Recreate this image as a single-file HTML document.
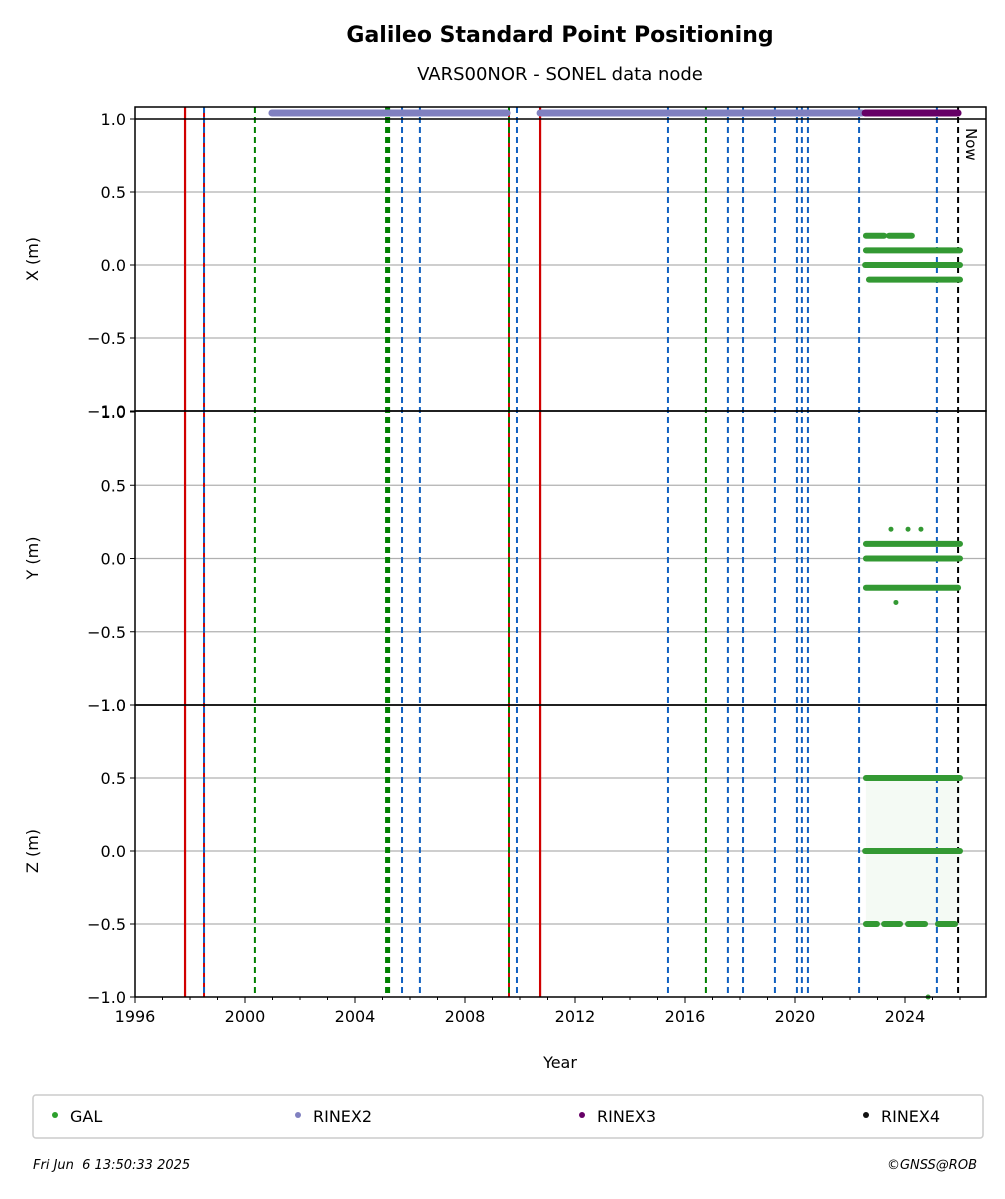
<!DOCTYPE html>
<html><head><meta charset="utf-8"><style>
body{margin:0;background:#fff;}
svg text{font-family:"DejaVu Sans","Liberation Sans",sans-serif;}
</style></head><body>
<svg id="chart" width="1005" height="1194" xmlns="http://www.w3.org/2000/svg">
<text x="560" y="42" text-anchor="middle" font-size="22" font-weight="bold">Galileo Standard Point Positioning</text>
<text x="560" y="80" text-anchor="middle" font-size="18">VARS00NOR - SONEL data node</text>
<g id="plot"></g>
<text x="560" y="1068" text-anchor="middle" font-size="16">Year</text>
<rect x="33" y="1095" width="950" height="43" fill="#fff" stroke="#ccc" stroke-width="1.5" rx="3"/>
<g><circle cx="55" cy="1115" r="3" fill="#2ca02c"/><text x="70" y="1122" font-size="16">GAL</text></g>
<g><circle cx="298" cy="1115" r="3" fill="#8080c0"/><text x="313" y="1122" font-size="16">RINEX2</text></g>
<g><circle cx="582" cy="1115" r="3" fill="#660066"/><text x="597" y="1122" font-size="16">RINEX3</text></g>
<g><circle cx="866" cy="1115" r="3" fill="#111"/><text x="881" y="1122" font-size="16">RINEX4</text></g>
<text x="33" y="1169" font-size="13" font-style="italic" xml:space="preserve">Fri Jun  6 13:50:33 2025</text>
<text x="977" y="1169" text-anchor="end" font-size="13" font-style="italic">©GNSS@ROB</text>
</svg>
<script>
const xTicks=[1996,2000,2004,2008,2012,2016,2020,2024];
const yTicks=[1.0,0.5,0.0,-0.5,-1.0];
const redSolid=[1997.82,2010.73];
const redDashed=[1998.51,2009.6];
const greenDashed=[2000.36,2005.13,2005.19,2005.24,2009.6,2016.76];
const blueDashed=[1998.51,2005.71,2006.36,2009.89,2015.38,2017.56,2018.11,2019.27,2020.07,2020.25,2020.47,2022.33,2025.16];
const nowYear=2025.93;
const rinex2=[[2000.98,2009.53],[2010.73,2022.44]];
const rinex3=[[2022.55,2025.93]];
// GAL series ranges: [start, end, value]
const galX=[[2022.58,2023.24,0.2],[2023.42,2024.25,0.2],[2022.58,2026.0,0.1],[2022.55,2026.0,0.0],[2022.69,2026.0,-0.1]];
const galY=[[2022.58,2026.0,0.1],[2022.58,2026.0,0.0],[2022.58,2025.93,-0.2]];
const galYpts=[[2023.49,0.2],[2024.11,0.2],[2024.58,0.2],[2023.67,-0.3]];
const galZ=[[2022.58,2026.0,0.5],[2022.55,2026.0,0.0],[2022.58,2022.98,-0.5],[2023.24,2023.82,-0.5],[2024.11,2024.73,-0.5],[2025.2,2025.82,-0.5]];
const galZpts=[[2024.84,-1.0]];

const NS='http://www.w3.org/2000/svg';
const g=document.getElementById('plot');
const L=135,R=986;
const xs=y=>L+(y-1996)*27.5;
const panels=[{top:107,one:119,bot:411,label:'X (m)'},{top:411,one:412,bot:705,label:'Y (m)'},{top:705,one:705,bot:997,label:'Z (m)'}];
function el(t,a,p){const e=document.createElementNS(NS,t);for(const k in a)e.setAttribute(k,a[k]);(p||g).appendChild(e);return e;}
panels.forEach((p,i)=>{
  const ys=v=>p.bot-(v+1)*(p.bot-p.one)/2;
  p.ys=ys;
  yTicks.forEach(t=>{
    if(t<1&&t>-1){const l=el('line',{x1:L,x2:R,y1:ys(t),y2:ys(t),stroke:'#b0b0b0','stroke-width':1.2});
    
    }
    el('line',{x1:L-5,x2:L,y1:ys(t),y2:ys(t),stroke:'#000'});
    const tx=el('text',{x:L-9,y:ys(t)+6,'text-anchor':'end','font-size':16});
    tx.textContent=(t<0?'\u2212':'')+Math.abs(t).toFixed(1);
    
    
  });
  const lab=el('text',{x:0,y:0,'text-anchor':'middle','font-size':16,transform:`translate(38,${(p.top+p.bot)/2}) rotate(-90)`});
  lab.textContent=p.label;
  
  
});
const pz=panels[2];
const zf=el('rect',{x:xs(2022.58),y:pz.ys(0.5),width:xs(2026.0)-xs(2022.58),height:pz.ys(-0.5)-pz.ys(0.5),fill:'#2ca02c','fill-opacity':0.05});


function vline(yr,color,dash,w,name){
  const l=el('line',{x1:xs(yr),x2:xs(yr),y1:107,y2:997,stroke:color,'stroke-width':w});
  if(dash)l.setAttribute('stroke-dasharray',dash);
  
  
}
redSolid.forEach(y=>vline(y,'#d00000',null,2.2,'equipment-change-line'));
redDashed.forEach(y=>vline(y,'#d00000',null,2,'equipment-change-line'));
greenDashed.forEach(y=>vline(y,'#008000','6,4',2,'antenna-change-line'));
blueDashed.forEach(y=>vline(y,'#1060c0','6,4',2,'receiver-change-line'));
vline(nowYear,'#000','6,4',2,'now-line');
const nt=el('text',{x:0,y:0,'font-size':15,transform:`translate(${xs(nowYear)+8},128) rotate(90)`});
nt.textContent='Now';


function seg(a,b,y,color,w,name){
  const l=el('line',{x1:xs(a),x2:xs(b),y1:y,y2:y,stroke:color,'stroke-width':w,'stroke-linecap':'round'});
  
  
}
rinex2.forEach(r=>seg(r[0],r[1],113,'#8080c0',7,'rinex2-availability'));
rinex3.forEach(r=>seg(r[0],r[1],113,'#660066',7,'rinex3-availability'));
[galX,galY,galZ].forEach((s,i)=>s.forEach(r=>seg(r[0],r[1],panels[i].ys(r[2]),'#339933',6,'gal-series')));
[[galYpts,1],[galZpts,2]].forEach(([pts,i])=>pts.forEach(p=>{
  const c=el('circle',{cx:xs(p[0]),cy:panels[i].ys(p[1]),r:2.5,fill:'#339933'});
  
  
}));
panels.forEach(p=>{
  const f=el('rect',{x:L,y:p.top,width:R-L,height:p.bot-p.top,fill:'none',stroke:'#000','stroke-width':1.5});
  
  
});
el('line',{x1:L,x2:R,y1:119,y2:119,stroke:'#000','stroke-width':1.5});
for(let y=1996;y<=2026;y++){
  el('line',{x1:xs(y),x2:xs(y),y1:997,y2:y%4===0?1003:1000,stroke:'#000'});
}
xTicks.forEach(t=>{
  const tx=el('text',{x:xs(t),y:1022,'text-anchor':'middle','font-size':16});
  tx.textContent=t;
  
  
});
</script>
</body></html>
